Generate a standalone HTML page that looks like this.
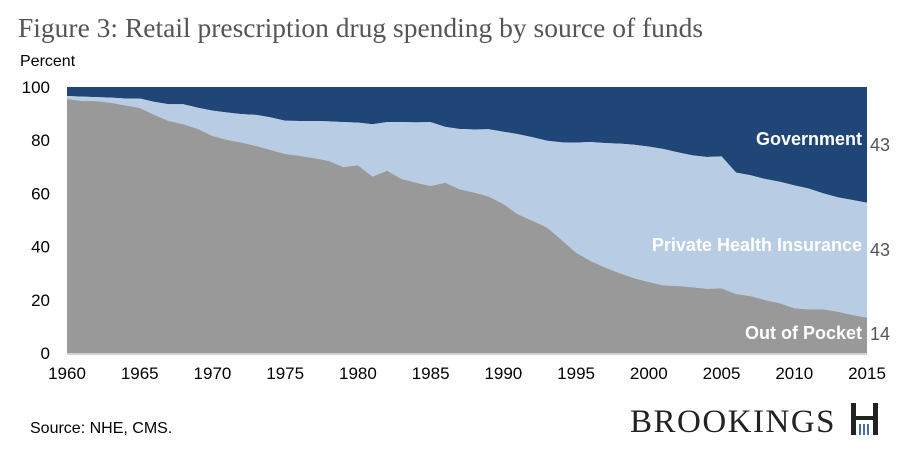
<!DOCTYPE html>
<html><head><meta charset="utf-8"><style>
body{margin:0;width:900px;height:448px;background:#fff;overflow:hidden;font-family:"Liberation Sans",sans-serif}
</style></head><body>
<svg id="chart" width="900" height="448">
<text x="18" y="37" font-family="Liberation Serif,serif" font-size="27.5" fill="#555">Figure 3: Retail prescription drug spending by source of funds</text>
<text x="20" y="66" font-size="16" fill="#000">Percent</text>
<g id="areas"></g>
<g id="yticks"></g>
<g id="xticks"></g>
<g font-size="18" font-weight="bold" fill="#fff" text-anchor="end">
<text x="862" y="145">Government</text>
<text x="862" y="251">Private Health Insurance</text>
<text x="862" y="339">Out of Pocket</text>
</g>
<g font-size="18" fill="#555">
<text x="870" y="151">43</text>
<text x="870" y="256">43</text>
<text x="870" y="340">14</text>
</g>
<text x="30" y="433" font-size="16" fill="#000">Source: NHE, CMS.</text>
<text x="630" y="432" font-family="Liberation Serif,serif" font-size="33" fill="#222" letter-spacing="1.5">BROOKINGS</text>
<g fill="#222">
<rect x="851" y="403" width="5" height="32"/><rect x="873" y="403" width="5" height="32"/><rect x="856" y="416" width="17" height="4"/>
<rect x="859" y="424" width="2" height="11" fill="#4a6fa5"/><rect x="863" y="424" width="2" height="11" fill="#4a6fa5"/><rect x="867" y="424" width="2" height="11" fill="#4a6fa5"/>
</g>
</svg>
<script>
const years=[];for(let y=1960;y<=2015;y++)years.push(y);
const oop=[95.5,94.8,94.7,94.1,93.1,92.1,89.5,87.2,86,84.2,81.6,80.1,79.1,77.8,76.3,74.8,74.1,73.2,72.2,69.9,70.6,66.3,68.5,65.4,64,62.8,64,61.5,60.3,58.8,56,52.1,49.7,47.2,42.5,37.7,34.6,32.1,30,28.1,26.7,25.4,25.2,24.7,24.1,24.3,22.2,21.4,19.9,18.7,16.8,16.4,16.4,15.5,14.3,13.3];
const privTop=[96.6,96.4,96.2,96,95.7,95.7,94.4,93.5,93.5,92.2,91.1,90.4,89.8,89.5,88.6,87.3,87.2,87.2,87.1,86.8,86.6,86,86.8,86.8,86.7,86.8,85,84.2,84,84.1,83.2,82.3,81.1,79.8,79.2,79.1,79.3,78.9,78.7,78.3,77.6,76.7,75.4,74.3,73.7,73.9,67.8,66.8,65.4,64.4,63,61.8,60,58.5,57.5,56.5];
const privateIns=privTop.map((v,i)=>+(v-oop[i]).toFixed(1));
const yTicks=[0,20,40,60,80,100];
const xTicks=[1960,1965,1970,1975,1980,1985,1990,1995,2000,2005,2010,2015];
const X=y=>67+(y-1960)*(800/55);
const Y=v=>353-v*2.66;
const NS="http://www.w3.org/2000/svg";
const g=document.getElementById('areas');
function area(lo,hi,fill,name){
 let d="M"+years.map((yr,i)=>X(yr)+","+Y(hi[i])).join("L");
 for(let i=years.length-1;i>=0;i--)d+="L"+X(years[i])+","+Y(lo[i]);
 const p=document.createElementNS(NS,'path');p.setAttribute('d',d+"Z");p.setAttribute('fill',fill);
 
 
 g.appendChild(p);
}
const zero=years.map(()=>0),top1=oop,top2=oop.map((v,i)=>v+privateIns[i]),hundred=years.map(()=>100);
area(top2,hundred,'#1f4677','area-government');
area(top1,top2,'#b8cce4','area-private-insurance');
area(zero,top1,'#999999','area-out-of-pocket');
const ax=document.createElementNS(NS,'line');
ax.setAttribute('x1',67);ax.setAttribute('x2',867);ax.setAttribute('y1',354);ax.setAttribute('y2',354);ax.setAttribute('stroke','#d0d0d0');ax.setAttribute('stroke-width','2');


g.appendChild(ax);
const yt=document.getElementById('yticks');
yTicks.forEach(v=>{const t=document.createElementNS(NS,'text');t.setAttribute('x',50);t.setAttribute('y',Y(v)+6);t.setAttribute('text-anchor','end');t.setAttribute('font-size','17');t.setAttribute('fill','#000');t.textContent=v;
 
 
 yt.appendChild(t);});
const xt=document.getElementById('xticks');
xTicks.forEach(v=>{const t=document.createElementNS(NS,'text');t.setAttribute('x',X(v));t.setAttribute('y',379);t.setAttribute('text-anchor','middle');t.setAttribute('font-size','17');t.setAttribute('fill','#000');t.textContent=v;
 
 
 xt.appendChild(t);});
</script>
</body></html>
